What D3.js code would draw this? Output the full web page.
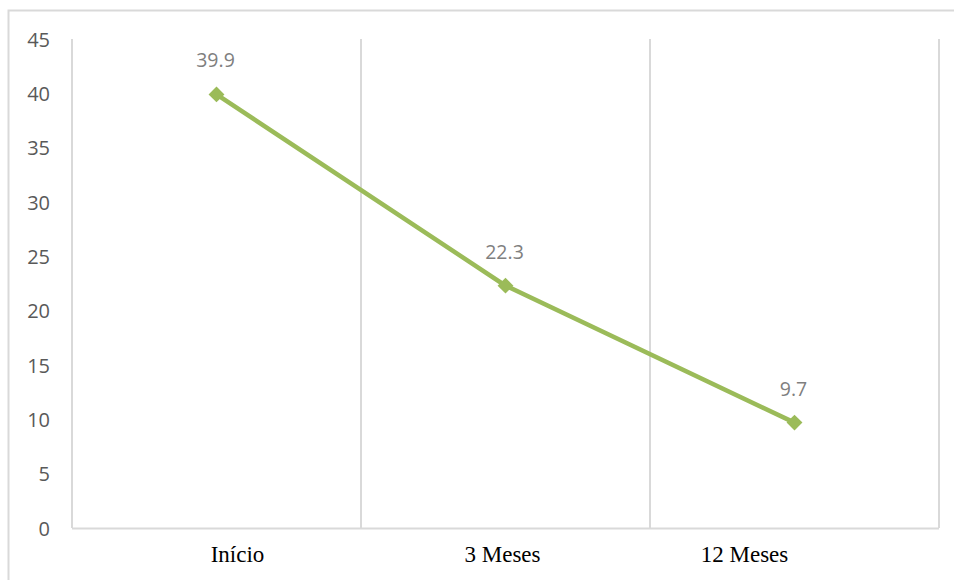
<!DOCTYPE html>
<html>
<head>
<meta charset="utf-8">
<script src="https://cdn.jsdelivr.net/npm/d3@7"></script>
<style>
  html, body { margin: 0; padding: 0; background: #fff; }
  svg { display: block; }
</style>
</head>
<body>
<svg id="chart" width="954" height="580"></svg>
<script>
const categories = ["Início", "3 Meses", "12 Meses"];
const values = [39.9, 22.3, 9.7];
const yTicks = [0, 5, 10, 15, 20, 25, 30, 35, 40, 45];

const plot = { left: 72, right: 939, top: 39, bottom: 528 };
// horizontal nudge of each category caption relative to its band centre
const captionShift = [21, -3, -50];

const svg = d3.select("#chart");

// outer chart frame (extends past the right and bottom edges)
svg.append("rect")
  .attr("x", 8.5).attr("y", 10.5)
  .attr("width", 970).attr("height", 600)
  .attr("fill", "#fff")
  .attr("stroke", "#d9d9d9").attr("stroke-width", 2);

const x = d3.scaleBand().domain(categories).range([plot.left, plot.right]).padding(0);
const y = d3.scaleLinear().domain([0, 45]).range([plot.bottom, plot.top]);

// vertical gridlines at category boundaries
const bounds = categories.map(c => x(c)).concat([x(categories[categories.length - 1]) + x.bandwidth()]);
svg.append("g").selectAll("line").data(bounds).join("line")
  .attr("x1", d => d).attr("x2", d => d)
  .attr("y1", plot.top).attr("y2", plot.bottom)
  .attr("stroke", "#d9d9d9").attr("stroke-width", 2);

// category axis line
svg.append("line")
  .attr("x1", plot.left).attr("x2", plot.right)
  .attr("y1", y(0) + 0.5).attr("y2", y(0) + 0.5)
  .attr("stroke", "#d9d9d9").attr("stroke-width", 2);

// value axis labels
const yAxis = d3.axisLeft(y).tickValues(yTicks).tickSize(0).tickPadding(0).tickFormat(d3.format("d"));
const gy = svg.append("g").attr("transform", `translate(${plot.left - 22},0)`).call(yAxis);
gy.select(".domain").remove();
gy.selectAll("text")
  .attr("fill", "#595959")
  .attr("font-family", "'Open Sans', 'Liberation Sans', sans-serif")
  .attr("font-size", 20)
  .attr("dy", "0.36em");

// category axis labels
const xAxis = d3.axisBottom(x).tickSize(0).tickPadding(0);
const gx = svg.append("g").attr("transform", `translate(0,${plot.bottom})`).call(xAxis);
gx.select(".domain").remove();
gx.selectAll("text")
  .attr("fill", "#000")
  .attr("font-family", "'Liberation Serif', 'Times New Roman', serif")
  .attr("font-size", 23)
  .attr("x", (d, i) => captionShift[i])
  .attr("y", 34)
  .attr("dy", 0);

const cx = d => x(d) + x.bandwidth() / 2;
const pts = categories.map((c, i) => ({ c, v: values[i] }));

// series line
svg.append("path")
  .datum(pts)
  .attr("fill", "none")
  .attr("stroke", "#9bbb59")
  .attr("stroke-width", 4.5)
  .attr("d", d3.line().x(d => cx(d.c)).y(d => y(d.v)));

// diamond markers
svg.append("g").selectAll("path").data(pts).join("path")
  .attr("transform", d => `translate(${cx(d.c)},${y(d.v)})`)
  .attr("d", d3.symbol(d3.symbolDiamond2, 160))
  .attr("fill", "#9bbb59");

// data labels
svg.append("g").selectAll("text").data(pts).join("text")
  .attr("x", d => cx(d.c) - 1)
  .attr("y", d => y(d.v) - 27)
  .attr("text-anchor", "middle")
  .attr("fill", "#7f7f7f")
  .attr("font-family", "'Open Sans', 'Liberation Sans', sans-serif")
  .attr("font-size", 19.5)
  .text(d => d.v);
</script>
</body>
</html>
